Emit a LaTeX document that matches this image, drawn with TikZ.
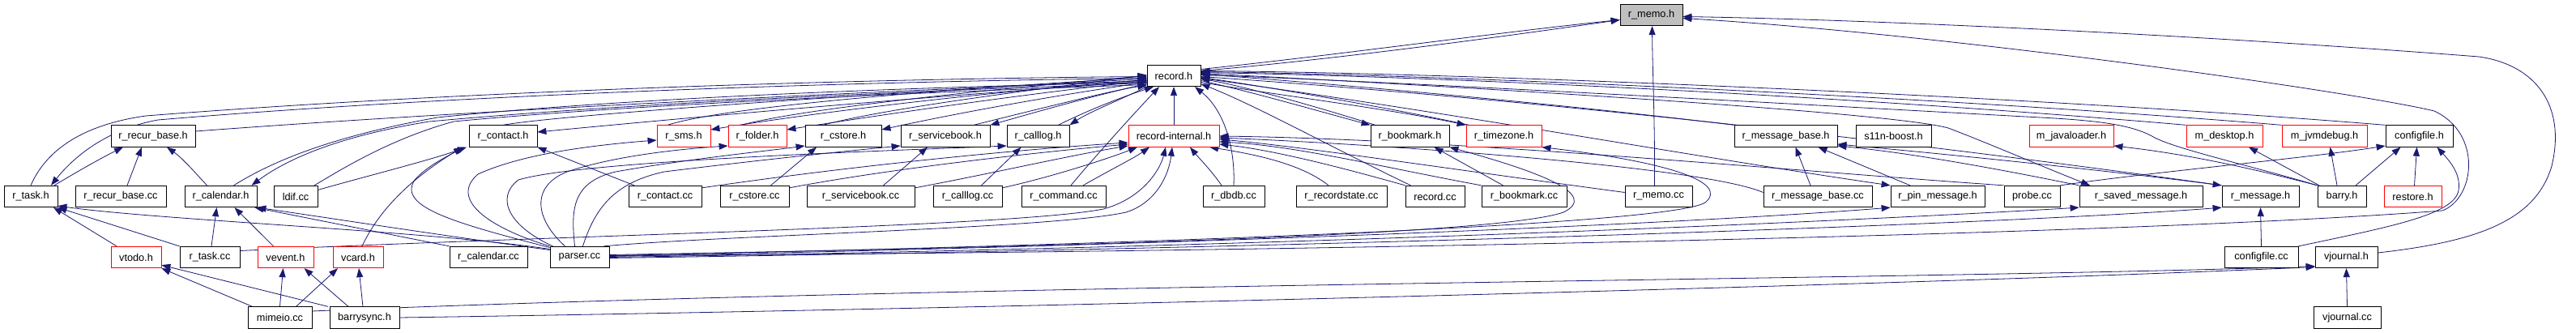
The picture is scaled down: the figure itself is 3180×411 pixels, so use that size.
\documentclass[tikz,border=0pt]{standalone}
\usepackage{fontspec}
\setmainfont{Liberation Sans}
\usetikzlibrary{arrows.meta}
\definecolor{edgec}{RGB}{25,25,112}
\definecolor{memofill}{RGB}{191,191,191}
\pgfdeclarelayer{bg}
\pgfsetlayers{bg,main}
\tikzset{
 fbox/.style={draw=black, line width=0.8pt, minimum height=26.5pt, inner sep=0pt, font=\fontsize{12.7}{14}\selectfont, fill=white},
 rbox/.style={fbox, draw=red},
 gbox/.style={fbox, fill=memofill},
 e/.style={draw=edgec, line width=0.8pt, -{Triangle[length=11pt,width=8pt]}},
}
\begin{document}
\begin{tikzpicture}[x=1pt,y=-1pt]
\useasboundingbox (0,0) rectangle (3180,411);
% row 0
\node[gbox,minimum width=77pt] (memoh) at (2038.5,18.5) {r\_memo.h};
% row 1
\node[fbox,minimum width=66pt] (recordh) at (1449,93.5) {record.h};
% row 2
\node[fbox,minimum width=104pt] (recurbaseh) at (189,168) {r\_recur\_base.h};
\node[fbox,minimum width=84pt] (contacth) at (621,168) {r\_contact.h};
\node[rbox,minimum width=66pt] (smsh) at (844,168) {r\_sms.h};
\node[rbox,minimum width=72pt] (folderh) at (935,168) {r\_folder.h};
\node[fbox,minimum width=94pt] (cstoreh) at (1041,168) {r\_cstore.h};
\node[fbox,minimum width=110pt] (servicebookh) at (1167,168) {r\_servicebook.h};
\node[fbox,minimum width=77pt] (calllogh) at (1281.5,168) {r\_calllog.h};
\node[rbox,minimum width=112pt] (rih) at (1449,168) {record-internal.h};
\node[fbox,minimum width=97pt] (bookmarkh) at (1740.5,168) {r\_bookmark.h};
\node[rbox,minimum width=93pt] (timezoneh) at (1856.5,168) {r\_timezone.h};
\node[fbox,minimum width=127pt] (msgbaseh) at (2204.5,168) {r\_message\_base.h};
\node[fbox,minimum width=93pt] (s11n) at (2337.5,168) {s11n-boost.h};
\node[rbox,minimum width=104pt] (javaloader) at (2557,168) {m\_javaloader.h};
\node[rbox,minimum width=94pt] (desktop) at (2746,168) {m\_desktop.h};
\node[rbox,minimum width=105pt] (jvmdebug) at (2869.5,168) {m\_jvmdebug.h};
\node[fbox,minimum width=83pt] (configh) at (2986.5,168) {configfile.h};
% row 3
\node[fbox,minimum width=66pt] (taskh) at (38,242.5) {r\_task.h};
\node[fbox,minimum width=112pt] (recurbasecc) at (149,242.5) {r\_recur\_base.cc};
\node[fbox,minimum width=89pt] (calendarh) at (272.5,242.5) {r\_calendar.h};
\node[fbox,minimum width=54pt] (ldif) at (365,242.5) {ldif.cc};
\node[fbox,minimum width=90pt] (contactcc) at (821,242.5) {r\_contact.cc};
\node[fbox,minimum width=85pt] (cstorecc) at (931.5,242.5) {r\_cstore.cc};
\node[fbox,minimum width=133pt] (servicebookcc) at (1062.5,242.5) {r\_servicebook.cc};
\node[fbox,minimum width=85pt] (calllogcc) at (1194.5,242.5) {r\_calllog.cc};
\node[fbox,minimum width=104pt] (commandcc) at (1313,242.5) {r\_command.cc};
\node[fbox,minimum width=76pt] (dbdbcc) at (1523,242.5) {r\_dbdb.cc};
\node[fbox,minimum width=112pt] (recordstatecc) at (1656,242.5) {r\_recordstate.cc};
\node[fbox,minimum width=73pt] (recordcc) at (1771.5,242.5) {record.cc};
\node[fbox,minimum width=105pt] (bookmarkcc) at (1881.5,242.5) {r\_bookmark.cc};
\node[fbox,minimum width=83pt] (memocc) at (2047.5,242.5) {r\_memo.cc};
\node[fbox,minimum width=134pt] (msgbasecc) at (2244,242.5) {r\_message\_base.cc};
\node[fbox,minimum width=116pt] (pinmsgh) at (2392,242.5) {r\_pin\_message.h};
\node[fbox,minimum width=69pt] (probecc) at (2508.5,242.5) {probe.cc};
\node[fbox,minimum width=152pt] (savedmsgh) at (2643,242.5) {r\_saved\_message.h};
\node[fbox,minimum width=95pt] (msgh) at (2790.5,242.5) {r\_message.h};
\node[fbox,minimum width=60pt] (barryh) at (2891,242.5) {barry.h};
\node[rbox,minimum width=71pt] (restoreh) at (2978.5,242.5) {restore.h};
% row 4
\node[rbox,minimum width=62pt] (vtodoh) at (168,317.5) {vtodo.h};
\node[fbox,minimum width=74pt] (taskcc) at (259,317.5) {r\_task.cc};
\node[rbox,minimum width=69pt] (veventh) at (352.5,317.5) {vevent.h};
\node[rbox,minimum width=62pt] (vcardh) at (442,317.5) {vcard.h};
\node[fbox,minimum width=96pt] (calendarcc) at (603,317.5) {r\_calendar.cc};
\node[fbox,minimum width=73pt] (parsercc) at (715.5,317.5) {parser.cc};
\node[fbox,minimum width=91pt] (configcc) at (2791.5,317.5) {configfile.cc};
\node[fbox,minimum width=77pt] (vjournalh) at (2896.5,317.5) {vjournal.h};
% row 5
\node[fbox,minimum width=79pt] (mimeiocc) at (345.5,392) {mimeio.cc};
\node[fbox,minimum width=86pt] (barrysynch) at (450,392) {barrysync.h};
\node[fbox,minimum width=83pt] (vjournalcc) at (2897.5,392) {vjournal.cc};

\begin{pgfonlayer}{bg}
\fill[white] (0,0) rectangle (3180,411);
% into r_memo.h
\draw[e] ([yshift=8pt]recordh.east) .. controls (1650,68) and (1850,40) .. ([yshift=-6pt]memoh.west);
\draw[e] ([yshift=6pt]recordh.east) .. controls (1650,73) and (1850,46) .. ([yshift=-6pt]memoh.west);
\draw[e] ([xshift=-5pt]memocc.north) .. controls (2043,150) and (2040,90) .. ([xshift=1pt]memoh.south);
\draw[e] ([yshift=5.5pt]vjournalh.east) .. controls (3060,298) and (3130,272) .. (3150,205) .. controls (3168,130) and (3130,80) .. (3060,70) .. controls (2700,42) and (2300,24) .. ([yshift=-2pt]memoh.east);
\draw[e] ([yshift=2pt]parsercc.east) .. controls (1500,312) and (2600,292) .. (3015,260) .. controls (3055,245) and (3065,165) .. (3005,137) .. controls (2900,112) and (2400,42) .. ([yshift=-4pt]memoh.east);
% record.h left side
\draw[e] (taskh.north) .. controls (55,190) and (95,155) .. (180,143) .. controls (600,110) and (1100,97) .. ([yshift=-1pt]recordh.west);
\draw[e] ([yshift=-3pt]recordh.west) .. controls (1100,100) and (600,114) .. (195,148) .. controls (130,160) and (90,195) .. ([xshift=25pt]taskh.north);
\draw[e] ([yshift=6pt]recurbaseh.east) .. controls (600,135) and (1100,112) .. ([yshift=-6pt]recordh.west);
\draw[e] ([xshift=16pt]calendarh.north) .. controls (330,203) and (400,170) .. (540,145) .. controls (800,118) and (1200,106) .. ([yshift=-8pt]recordh.west);
\draw[e] ([yshift=-9pt]recordh.west) .. controls (1200,110) and (800,125) .. (530,150) .. controls (430,166) and (360,192) .. ([xshift=38pt]calendarh.north);
\draw[e] ([xshift=23pt]ldif.north) .. controls (420,210) and (480,172) .. (560,150) .. controls (800,127) and (1200,112) .. ([yshift=-11pt]recordh.west);
\draw[e] ([yshift=8pt]ldif.east) .. controls (450,218) and (530,198) .. ([xshift=-45pt]contacth.south);
\draw[e] (contacth.north) .. controls (700,140) and (1200,108) .. ([yshift=-4pt]recordh.west);
\draw[e] ([yshift=-7pt]recordh.west) .. controls (1100,122) and (800,150) .. ([yshift=5pt]contacth.east);
\draw[e] ([xshift=-20pt]smsh.north) .. controls (900,130) and (1200,108) .. ([yshift=-2pt]recordh.west);
\draw[e] ([yshift=-5pt]recordh.west) .. controls (1200,115) and (1000,140) .. ([yshift=8pt]smsh.east);
\draw[e] ([xshift=-20pt]folderh.north) .. controls (1000,132) and (1250,108) .. (recordh.west);
\draw[e] ([yshift=-6pt]recordh.west) .. controls (1250,118) and (1100,140) .. ([yshift=8pt]folderh.east);
\draw[e] ([xshift=-25pt]cstoreh.north) .. controls (1100,132) and (1300,108) .. ([yshift=1pt]recordh.west);
\draw[e] ([yshift=-8pt]recordh.west) .. controls (1300,118) and (1180,140) .. ([yshift=8pt]cstoreh.east);
\draw[e] ([xshift=35pt]servicebookh.north) .. controls (1280,135) and (1380,110) .. ([yshift=-12pt]recordh.west);
\draw[e] ([yshift=-10pt]recordh.west) .. controls (1350,118) and (1280,138) .. (servicebookh.north east);
\draw[e] ([xshift=25pt]calllogh.north) .. controls (1345,135) and (1390,118) .. ([xshift=-25pt]recordh.south);
\draw[e] (recordh.south west) .. controls (1390,120) and (1345,138) .. (calllogh.north east);
\draw[e] ([xshift=9pt]commandcc.north) .. controls (1350,195) and (1400,140) .. ([xshift=-18pt]recordh.south);
\draw[e] (rih.north) -- (recordh.south);
\draw[e] (dbdbcc.north) .. controls (1525,180) and (1510,135) .. ([xshift=26pt]recordh.south);
% record.h right side
\draw[e] ([xshift=6pt]bookmarkh.north west) .. controls (1620,130) and (1530,105) .. ([yshift=-4pt]recordh.east);
\draw[e] ([yshift=-6pt]recordh.east) .. controls (1540,112) and (1620,135) .. (bookmarkh.north west);
\draw[e] ([xshift=4pt]timezoneh.north west) .. controls (1700,130) and (1550,105) .. ([yshift=-2pt]recordh.east);
\draw[e] ([yshift=-8pt]recordh.east) .. controls (1560,115) and (1720,135) .. (timezoneh.north west);
\draw[e] ([xshift=-30pt]recordcc.north) .. controls (1650,185) and (1550,130) .. ([yshift=-10pt]recordh.east);
\draw[e] (msgbaseh.north west) .. controls (1900,125) and (1600,100) .. ([yshift=2pt]recordh.east);
\draw[e] (desktop.north west) .. controls (2300,120) and (1800,95) .. ([yshift=4pt]recordh.east);
\draw[e] (jvmdebug.north west) .. controls (2400,120) and (1800,93) .. ([yshift=5pt]recordh.east);
\draw[e] (configh.north west) .. controls (2500,118) and (1800,90) .. ([yshift=6pt]recordh.east);
\draw[e] (barryh.north west) .. controls (2780,205) and (2690,185) .. (2660,170) .. controls (2630,152) and (2580,148) .. (2500,144) .. controls (2100,122) and (1700,100) .. ([yshift=1pt]recordh.east);
\draw[e] ([yshift=-3pt]recordh.east) .. controls (1800,140) and (2100,195) .. (pinmsgh.north west);
\draw[e] ([yshift=3pt]recordh.east) .. controls (1900,112) and (2340,140) .. (2405,158) .. controls (2450,175) and (2520,205) .. ([xshift=-63pt]savedmsgh.north);
\draw[e] ([yshift=-1pt]recordh.east) .. controls (2000,130) and (2500,195) .. (msgh.north west);
% into record-internal.h
\draw[e] ([yshift=-3pt]contactcc.north east) .. controls (1050,205) and (1250,185) .. ([yshift=-8pt]rih.west);
\draw[e] ([yshift=-3pt]cstorecc.north east) .. controls (1100,208) and (1280,188) .. ([yshift=-10pt]rih.west);
\draw[e] ([yshift=-3pt]servicebookcc.north east) .. controls (1220,215) and (1320,192) .. ([yshift=-12pt]rih.west);
\draw[e] ([yshift=-3pt]calllogcc.north east) .. controls (1300,218) and (1370,195) .. ([xshift=-45pt]rih.south);
\draw[e] ([xshift=24pt]commandcc.north) .. controls (1370,210) and (1400,195) .. ([xshift=-30pt]rih.south);
\draw[e] ([xshift=30pt]parsercc.north) .. controls (900,290) and (1300,282) .. (1390,262) .. controls (1428,250) and (1443,215) .. ([xshift=-2pt]rih.south);
\draw[e] ([yshift=8pt]taskcc.east) .. controls (700,290) and (1250,280) .. (1362,258) .. controls (1410,245) and (1432,210) .. ([xshift=-10pt]rih.south);
\draw[e] ([xshift=-15pt]dbdbcc.north) .. controls (1495,210) and (1480,195) .. ([xshift=20pt]rih.south);
\draw[e] ([xshift=-16pt]recordstatecc.north) .. controls (1610,205) and (1560,192) .. ([xshift=44pt]rih.south);
\draw[e] (recordcc.north west) .. controls (1650,205) and (1570,185) .. ([yshift=-10pt]rih.east);
\draw[e] (bookmarkcc.north west) .. controls (1700,205) and (1600,180) .. ([yshift=-7pt]rih.east);
\draw[e] ([yshift=5pt]memocc.west) .. controls (1800,210) and (1600,180) .. ([yshift=-4pt]rih.east);
\draw[e] ([yshift=5pt]msgbasecc.west) .. controls (2100,205) and (1700,178) .. ([yshift=-2pt]rih.east);
\draw[e] (probecc.north west) .. controls (2200,210) and (1800,172) .. (rih.east);
% out of parser.cc
\draw[e] (parsercc.north west) .. controls (600,280) and (555,245) .. (590,215) .. controls (640,192) and (720,180) .. ([yshift=-5pt]smsh.west);
\draw[e] ([xshift=-18pt]parsercc.north) .. controls (660,270) and (655,230) .. (700,212) .. controls (760,192) and (840,184) .. ([yshift=-12pt]folderh.west);
\draw[e] ([xshift=-6pt]parsercc.north) .. controls (705,260) and (705,225) .. (760,212) .. controls (850,196) and (950,186) .. ([yshift=-12pt]cstoreh.west);
\draw[e] ([xshift=4pt]parsercc.north) .. controls (735,255) and (760,225) .. (820,212) .. controls (950,196) and (1050,186) .. ([yshift=-12pt]servicebookh.west);
\draw[e] ([xshift=-33pt]parsercc.north) .. controls (630,280) and (610,245) .. (640,222) .. controls (720,198) and (1100,186) .. ([yshift=-12pt]calllogh.west);
\draw[e] ([yshift=12pt]parsercc.west) .. controls (560,275) and (490,255) .. (512,222) .. controls (527,205) and (552,193) .. ([xshift=-48pt]contacth.south);
\draw[e] ([yshift=10pt]parsercc.west) .. controls (530,285) and (200,272) .. ([yshift=2pt]taskh.south east);
\draw[e] ([yshift=9pt]parsercc.west) .. controls (540,290) and (400,268) .. (calendarh.south east);
\draw[e] ([yshift=3pt]parsercc.east) .. controls (1300,305) and (1850,290) .. (1930,262) .. controls (1975,240) and (1900,212) .. (bookmarkh.south east);
\draw[e] ([yshift=2pt]parsercc.east) .. controls (1400,302) and (2060,278) .. (2105,250) .. controls (2135,225) and (2060,200) .. (timezoneh.south east);
\draw[e] ([yshift=1pt]parsercc.east) .. controls (1500,302) and (2100,275) .. (pinmsgh.south west);
\draw[e] (parsercc.east) .. controls (1600,305) and (2300,272) .. (savedmsgh.south west);
\draw[e] ([yshift=-1pt]parsercc.east) .. controls (1700,305) and (2500,275) .. (msgh.south west);
% other edges
\draw[e] ([xshift=29pt]taskh.north) .. controls (95,212) and (125,195) .. ([xshift=-37pt]recurbaseh.south);
\draw[e] ([xshift=8pt]recurbasecc.north) -- ([xshift=-14pt]recurbaseh.south);
\draw[e] ([xshift=-17pt]calendarh.north) .. controls (240,212) and (225,195) .. ([xshift=17pt]recurbaseh.south);
\draw[e] ([xshift=-24pt]vtodoh.north) -- ([xshift=28pt]taskh.south);
\draw[e] (taskcc.north west) -- (taskh.south east);
\draw[e] ([xshift=2pt]taskcc.north) -- ([xshift=-5pt]calendarh.south);
\draw[e] ([xshift=-15pt]veventh.north) -- ([xshift=17pt]calendarh.south);
\draw[e] (calendarcc.north west) -- ([xshift=-3pt]calendarh.south east);
\draw[e] ([xshift=5pt]vcardh.north) .. controls (465,265) and (500,225) .. ([xshift=-50pt]contacth.south);
\draw[e] ([xshift=-34pt]mimeiocc.north) -- (vtodoh.south east);
\draw[e] ([xshift=-45pt]barrysynch.north) -- ([yshift=4pt]vtodoh.south east);
\draw[e] (mimeiocc.north) -- ([xshift=-3pt]veventh.south);
\draw[e] ([xshift=-20pt]barrysynch.north) -- ([xshift=23pt]veventh.south);
\draw[e] ([xshift=20pt]mimeiocc.north) -- ([xshift=-25pt]vcardh.south);
\draw[e] ([xshift=-2pt]barrysynch.north) -- ([xshift=1pt]vcardh.south);
\draw[e] ([yshift=8pt]mimeiocc.east) .. controls (1200,350) and (2400,345) .. ([yshift=-11pt]vjournalh.west);
\draw[e] (barrysynch.east) .. controls (1300,380) and (2400,350) .. ([yshift=-12pt]vjournalh.west);
\draw[e] ([xshift=-38pt]contactcc.north) -- (contacth.south east);
\draw[e] ([xshift=20pt]cstorecc.north) -- ([xshift=-33pt]cstoreh.south);
\draw[e] ([xshift=28pt]servicebookcc.north) -- ([xshift=-22pt]servicebookh.south);
\draw[e] ([xshift=17pt]calllogcc.north) -- ([xshift=-21pt]calllogh.south);
\draw[e] ([xshift=-26pt]bookmarkcc.north) -- ([xshift=30pt]bookmarkh.south);
\draw[e] ([xshift=-9pt]msgbasecc.north) -- ([xshift=12pt]msgbaseh.south);
\draw[e] ([xshift=-34pt]pinmsgh.north) -- ([xshift=40pt]msgbaseh.south);
\draw[e] (savedmsgh.north west) .. controls (2450,205) and (2350,188) .. ([yshift=-12pt]msgbaseh.east);
\draw[e] (msgh.north west) .. controls (2600,210) and (2400,190) .. ([yshift=-10pt]msgbaseh.east);
\draw[e] (configcc.north) -- (msgh.south);
\draw[e] (configcc.north east) .. controls (2950,280) and (3030,265) .. (3035,235) .. controls (3038,215) and (3025,200) .. ([xshift=22pt]configh.south);
\draw[e] (barryh.north west) .. controls (2750,200) and (2680,188) .. ([yshift=-12pt]javaloader.east);
\draw[e] ([xshift=-28pt]barryh.north) -- ([xshift=30pt]desktop.south);
\draw[e] ([xshift=-6pt]barryh.north) -- ([xshift=7pt]jvmdebug.south);
\draw[e] ([xshift=17pt]barryh.north) -- ([xshift=-23pt]configh.south);
\draw[e] ([xshift=2pt]restoreh.north) -- ([xshift=-3pt]configh.south);
\draw[e] (probecc.north east) .. controls (2650,213) and (2850,195) .. ([yshift=-12pt]configh.west);
\draw[e] (vjournalcc.north) -- (vjournalh.south);
\end{pgfonlayer}
\end{tikzpicture}
\end{document}
